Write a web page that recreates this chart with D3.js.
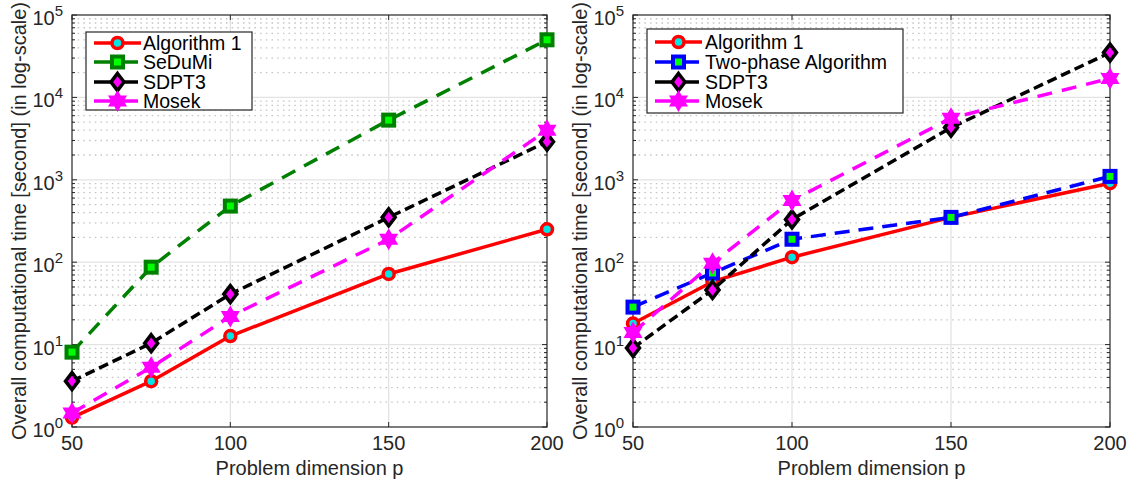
<!DOCTYPE html>
<html><head><meta charset="utf-8">
<script src="https://cdn.jsdelivr.net/npm/d3@7"></script>
<style>body{margin:0;background:#fff}text{font-family:"Liberation Sans",Arial,Helvetica,sans-serif;fill:#262626}</style>
</head><body>
<svg id="c" width="1131" height="485"></svg>
<script>
// ---- data ----
const dims = [50, 75, 100, 150, 200];
const xTicks = [50, 100, 150, 200];
const yExps = [0, 1, 2, 3, 4, 5];
const yLabel = "Overall computational time [second] (in log-scale)";
const xLabel = "Problem dimension p";

// left panel
const leftNames = ["Algorithm 1", "SeDuMi", "SDPT3", "Mosek"];
const leftAlg1   = [1.3, 3.6, 12.7, 72, 251];
const leftSeDuMi = [8.1, 87, 480, 5300, 50000];
const leftSDPT3  = [3.6, 10.4, 41, 350, 2900];
const leftMosek  = [1.48, 5.3, 22, 190, 4000];

// right panel
const rightNames = ["Algorithm 1", "Two-phase Algorithm", "SDPT3", "Mosek"];
const rightAlg1     = [18, 58, 115, 350, 910];
const rightTwoPhase = [28.5, 74, 190, 350, 1100];
const rightSDPT3    = [9.1, 46, 330, 4300, 35000];
const rightMosek    = [14, 97, 560, 5600, 17000];

// ---- styles ----
const styles = {
  "Algorithm 1": {color:"#ff0000", dash:null, marker:"circle", fill:"#00e5e5"},
  "SeDuMi": {color:"#008000", dash:"15,10", marker:"square", fill:"#00ff00"},
  "SDPT3": {color:"#000000", dash:"10,5", marker:"diamond", fill:"#ff00ff"},
  "Mosek": {color:"#ff00ff", dash:"15,10", marker:"hexagram", fill:"#ff00ff"},
  "Two-phase Algorithm": {color:"#0000ff", dash:"15,9", marker:"square", fill:"#00ff00"}
};

const svg = d3.select("#c");

function hexagramPath(R){
  const r = R/Math.sqrt(3); let p=[];
  for(let i=0;i<12;i++){
    const a = -Math.PI/2 + i*Math.PI/6;
    const rr = i%2===0?R:r;
    p.push([rr*Math.cos(a), rr*Math.sin(a)]);
  }
  return "M"+p.map(d=>d[0].toFixed(2)+","+d[1].toFixed(2)).join("L")+"Z";
}

function drawMarker(g, type, x, y, color, fill){
  if(type==="circle"){
    g.append("circle").attr("cx",x).attr("cy",y).attr("r",5.5)
      .attr("fill",fill).attr("stroke",color).attr("stroke-width",3.5);
  } else if(type==="square"){
    g.append("rect").attr("x",x-5.5).attr("y",y-5.5).attr("width",11).attr("height",11)
      .attr("fill",fill).attr("stroke",color).attr("stroke-width",4);
  } else if(type==="diamond"){
    g.append("path").attr("d",`M${x},${y-8.5}L${x+6.5},${y}L${x},${y+8.5}L${x-6.5},${y}Z`)
      .attr("fill",fill).attr("stroke",color).attr("stroke-width",3.5).attr("stroke-linejoin","miter");
  } else if(type==="hexagram"){
    g.append("path").attr("d",hexagramPath(9)).attr("transform",`translate(${x},${y})`)
      .attr("fill",fill).attr("stroke",color).attr("stroke-width",2);
  }
}

function panel(opts){
  const {x0,x1,y0,y1,names,series,legend,labelX} = opts;
  const x = d3.scaleLinear().domain([50,200]).range([x0,x1]);
  const y = d3.scaleLog().domain([1,1e5]).range([y1,y0]);
  const g = svg.append("g");

  // minor grid (dotted)
  const minor=[];
  for(let e=0;e<5;e++) for(let m=2;m<=9;m++) minor.push(m*Math.pow(10,e));
  g.selectAll(".mg").data(minor).enter().append("line")
    .attr("x1",x0).attr("x2",x1).attr("y1",d=>y(d)).attr("y2",d=>y(d))
    .attr("stroke","#c4c4c4").attr("stroke-width",1.3).attr("stroke-dasharray","1.5,4.2");
  // major grid
  const majors = yExps.map(e=>Math.pow(10,e));
  g.selectAll(".Mg").data(majors.slice(1,-1)).enter().append("line")
    .attr("x1",x0).attr("x2",x1).attr("y1",d=>y(d)).attr("y2",d=>y(d))
    .attr("stroke","#e3e3e3").attr("stroke-width",1.3);
  g.selectAll(".Mgx").data(xTicks.slice(1,-1)).enter().append("line")
    .attr("x1",d=>x(d)).attr("x2",d=>x(d)).attr("y1",y0).attr("y2",y1)
    .attr("stroke","#e3e3e3").attr("stroke-width",1.3);

  // ticks (inward, both sides)
  const axc="#262626";
  majors.forEach(v=>{
    g.append("line").attr("x1",x0).attr("x2",x0+5).attr("y1",y(v)).attr("y2",y(v)).attr("stroke",axc);
    g.append("line").attr("x1",x1).attr("x2",x1-5).attr("y1",y(v)).attr("y2",y(v)).attr("stroke",axc);
  });
  minor.forEach(v=>{
    g.append("line").attr("x1",x0).attr("x2",x0+3).attr("y1",y(v)).attr("y2",y(v)).attr("stroke",axc);
    g.append("line").attr("x1",x1).attr("x2",x1-3).attr("y1",y(v)).attr("y2",y(v)).attr("stroke",axc);
  });
  xTicks.forEach(v=>{
    g.append("line").attr("x1",x(v)).attr("x2",x(v)).attr("y1",y1).attr("y2",y1-5).attr("stroke",axc);
    g.append("line").attr("x1",x(v)).attr("x2",x(v)).attr("y1",y0).attr("y2",y0+5).attr("stroke",axc);
  });
  // box
  g.append("rect").attr("x",x0).attr("y",y0).attr("width",x1-x0).attr("height",y1-y0)
    .attr("fill","none").attr("stroke",axc).attr("stroke-width",1.2);

  // tick labels
  xTicks.forEach(v=>{
    g.append("text").attr("x",x(v)).attr("y",y1+23).attr("text-anchor","middle")
      .attr("font-size",20).text(v);
  });
  yExps.forEach(e=>{
    const t = g.append("text").attr("x",x0-9).attr("y",y(Math.pow(10,e))+10)
      .attr("text-anchor","end").attr("font-size",20);
    t.append("tspan").text("10");
    t.append("tspan").attr("dy",-9).attr("font-size",15).text(e);
  });

  // axis labels
  g.append("text").attr("x",(x0+x1)/2).attr("y",475).attr("text-anchor","middle")
    .attr("font-size",20).text(xLabel);
  g.append("text").attr("transform",`translate(${labelX},${(y0+y1)/2}) rotate(-90)`)
    .attr("text-anchor","middle").attr("font-size",20).text(yLabel);

  // series
  const line = d3.line().x((d,i)=>x(dims[i])).y(d=>y(d));
  names.forEach((n,k)=>{
    const s = styles[n];
    const sg = g.append("g");
    sg.append("path").attr("d",line(series[k])).attr("fill","none")
      .attr("stroke",s.color).attr("stroke-width",3.5)
      .attr("stroke-dasharray",s.dash).attr("stroke-linejoin","round");
    series[k].forEach((v,i)=>drawMarker(sg,s.marker,x(dims[i]),y(v),s.color,s.fill));
  });

  // legend
  const L = legend;
  const lg = g.append("g");
  lg.append("rect").attr("x",L.x).attr("y",L.y).attr("width",L.w).attr("height",L.h)
    .attr("fill","#fff").attr("stroke",axc).attr("stroke-width",1.2);
  names.forEach((n,k)=>{
    const s = styles[n];
    const ry = L.rows[k];
    lg.append("line").attr("x1",L.lx0).attr("x2",L.lx1).attr("y1",ry).attr("y2",ry)
      .attr("stroke",s.color).attr("stroke-width",3.5).attr("stroke-dasharray",s.dash?"22,8,14,8":null);
    drawMarker(lg,s.marker,(L.lx0+L.lx1)/2,ry,s.color,s.fill);
    lg.append("text").attr("x",L.tx).attr("y",ry+7).attr("font-size",19.5)
      .style("fill","#000").text(n);
  });
}

panel({x0:72, x1:547, y0:15, y1:427, names:leftNames,
  series:[leftAlg1,leftSeDuMi,leftSDPT3,leftMosek], labelX:26,
  legend:{x:86,y:32,w:166,h:78,rows:[43,62,82,101],lx0:94,lx1:141,tx:143}});
panel({x0:633, x1:1110, y0:15, y1:427, names:rightNames,
  series:[rightAlg1,rightTwoPhase,rightSDPT3,rightMosek], labelX:587,
  legend:{x:647,y:29,w:256,h:84,rows:[42,62,82,101],lx0:655,lx1:702,tx:705}});
</script>
</body></html>
